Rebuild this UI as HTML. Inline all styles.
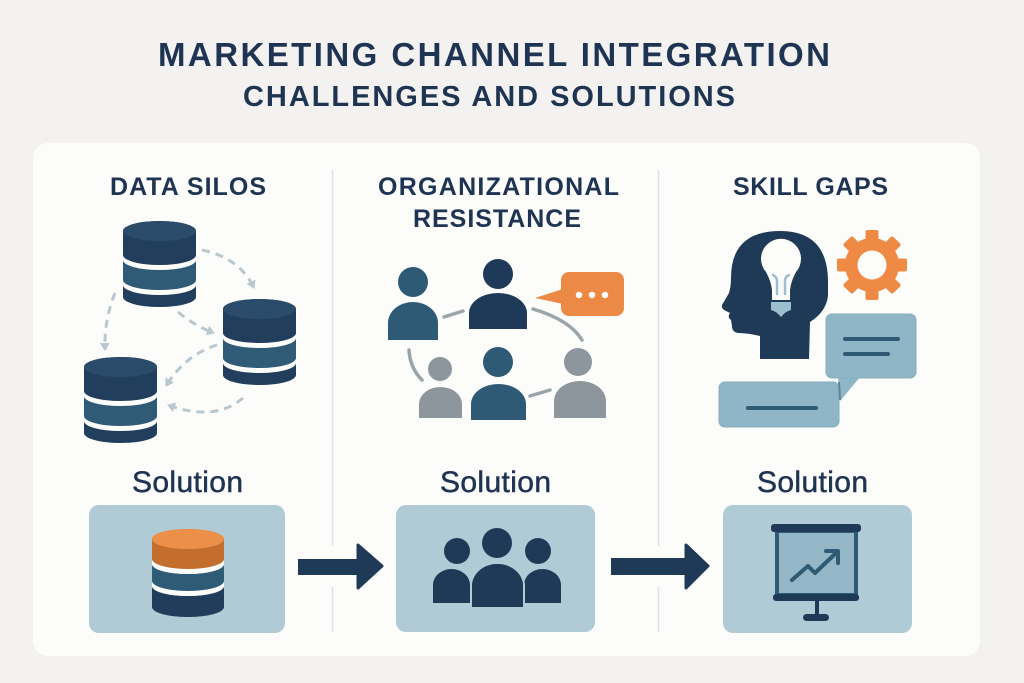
<!DOCTYPE html>
<html><head><meta charset="utf-8"><style>
html,body{margin:0;padding:0;background:#f3f2f0;}
svg{display:block;}
text{font-family:"Liberation Sans",sans-serif;fill:#1e3452;}
</style></head><body>
<svg width="1024" height="683" viewBox="0 0 1024 683" xmlns="http://www.w3.org/2000/svg">
<defs>
<marker id="ah" markerWidth="10" markerHeight="10" refX="7" refY="5" orient="auto" markerUnits="userSpaceOnUse">
<path d="M0,0 L8,5 L0,10 Z" fill="#b9c7d0"/>
</marker>
</defs>
<rect x="0" y="0" width="1024" height="683" fill="#f3f2f0"/>
<!-- titles -->
<text x="158" y="66" font-size="33" font-weight="bold" textLength="672" lengthAdjust="spacing">MARKETING CHANNEL INTEGRATION</text>
<text x="243" y="106" font-size="29" font-weight="bold" textLength="492" lengthAdjust="spacing">CHALLENGES AND SOLUTIONS</text>
<!-- panel -->
<rect x="33" y="143" width="947" height="513" rx="15" fill="#fcfcfb"/>
<!-- dividers -->
<g stroke="#dbe2e8" stroke-width="1.5">
<line x1="332.5" y1="170" x2="332.5" y2="546"/><line x1="332.5" y1="587" x2="332.5" y2="632"/>
<line x1="658.5" y1="170" x2="658.5" y2="546"/><line x1="658.5" y1="587" x2="658.5" y2="632"/>
</g>
<!-- headings -->
<text x="110" y="195" font-size="25" font-weight="bold" textLength="156" lengthAdjust="spacing">DATA SILOS</text>
<text x="378" y="195" font-size="25" font-weight="bold" textLength="241" lengthAdjust="spacing">ORGANIZATIONAL</text>
<text x="413" y="227" font-size="25" font-weight="bold" textLength="168" lengthAdjust="spacing">RESISTANCE</text>
<text x="733" y="195" font-size="25" font-weight="bold" textLength="155" lengthAdjust="spacing">SKILL GAPS</text>

<!-- cylinders data silos -->
<g id="cyl1">
<path d="M123,231 A36.5,10 0 0 1 196,231 L196,255 A36.5,10 0 0 1 123,255 Z" fill="#213f5d"/>
<ellipse cx="159.5" cy="231" rx="36.5" ry="10" fill="#2a4b69"/>
<path d="M123,260 A36.5,10 0 0 0 196,260 L196,280 A36.5,10 0 0 1 123,280 Z" fill="#2f5b77"/>
<path d="M123,285 A36.5,10 0 0 0 196,285 L196,297 A36.5,10 0 0 1 123,297 Z" fill="#213f5d"/>
</g>
<g transform="translate(100,78)">
<path d="M123,231 A36.5,10 0 0 1 196,231 L196,255 A36.5,10 0 0 1 123,255 Z" fill="#213f5d"/>
<ellipse cx="159.5" cy="231" rx="36.5" ry="10" fill="#2a4b69"/>
<path d="M123,260 A36.5,10 0 0 0 196,260 L196,280 A36.5,10 0 0 1 123,280 Z" fill="#2f5b77"/>
<path d="M123,285 A36.5,10 0 0 0 196,285 L196,297 A36.5,10 0 0 1 123,297 Z" fill="#213f5d"/>
</g>
<g transform="translate(-39,136)">
<path d="M123,231 A36.5,10 0 0 1 196,231 L196,255 A36.5,10 0 0 1 123,255 Z" fill="#213f5d"/>
<ellipse cx="159.5" cy="231" rx="36.5" ry="10" fill="#2a4b69"/>
<path d="M123,260 A36.5,10 0 0 0 196,260 L196,280 A36.5,10 0 0 1 123,280 Z" fill="#2f5b77"/>
<path d="M123,285 A36.5,10 0 0 0 196,285 L196,297 A36.5,10 0 0 1 123,297 Z" fill="#213f5d"/>
</g>
<!-- dashed arrows -->
<g fill="none" stroke="#b9c7d0" stroke-width="3" stroke-dasharray="8 6" marker-end="url(#ah)">
<path d="M202,250 Q240,258 254,288"/>
<path d="M178,312 Q195,326 214,333"/>
<path d="M115,293 Q104,320 105,350"/>
<path d="M217,345 Q185,355 166,386"/>
<path d="M243,398 Q215,422 168,405"/>
</g>

<!-- organizational resistance -->
<g stroke="#9aa5ab" stroke-width="3.5" stroke-linecap="round" fill="none">
<path d="M444,317 L463,311"/>
<path d="M533,309 Q570,320 582,340"/>
<path d="M409,350 Q410,368 422,380"/>
<path d="M530,396 L550,390"/>
</g>
<!-- person A -->
<circle cx="413" cy="282" r="15" fill="#2f5a76"/>
<path d="M388,340 L388,323 A25,21 0 0 1 438,323 L438,340 Z" fill="#2f5a76"/>
<!-- person B -->
<circle cx="498" cy="274" r="15" fill="#1f3a58"/>
<path d="M469,329 L469,313 A29,20 0 0 1 527,313 L527,329 Z" fill="#1f3a58"/>
<!-- person C -->
<circle cx="440" cy="369" r="12" fill="#8d969c"/>
<path d="M419,418 L419,404 A21.5,17 0 0 1 462,404 L462,418 Z" fill="#8d969c"/>
<!-- person D -->
<circle cx="498" cy="362" r="15" fill="#2f5a76"/>
<path d="M471,420 L471,404 A27.5,20 0 0 1 526,404 L526,420 Z" fill="#2f5a76"/>
<!-- person E -->
<circle cx="578" cy="362" r="14" fill="#8d969c"/>
<path d="M554,418 L554,401 A26,20 0 0 1 606,401 L606,418 Z" fill="#8d969c"/>
<!-- orange bubble -->
<path d="M563,289 L535,298 L563,304 Z" fill="#ec8a45"/>
<rect x="561" y="272" width="63" height="44" rx="8" fill="#ec8a45"/>
<circle cx="579" cy="295" r="3.2" fill="#fff"/>
<circle cx="592" cy="295" r="3.2" fill="#fff"/>
<circle cx="605" cy="295" r="3.2" fill="#fff"/>

<!-- skill gaps -->
<path d="M760,359 L760,336 Q748,333 738,333 Q732,332 732,326 L731,320 Q727,317 730,313 L726,311 Q721,309 722,305 L729,293 Q731,286 731,278 Q731,231 780,231 Q828,231 828,282 L828,296 Q826,312 810,322 L809,359 Z" fill="#1f3a57"/>
<path d="M772,300 L772,290 Q771,281 766,272 A20,20 0 1 1 796,272 Q791,281 790,290 L790,300 Z" fill="#fcfcfb"/>
<path d="M771,302 L791,302 L791,310 Q786,311 781,317 Q776,311 771,310 Z" fill="#9bbfcf"/>
<g stroke="#9bbfcf" stroke-width="2.5" fill="none" stroke-linecap="round">
<path d="M777,294 L777,281 Q777,277 773,275"/>
<path d="M785,294 L785,281 Q785,277 789,275"/>
</g>
<!-- gear -->
<g transform="translate(872,265)" fill="#ee8a43">
<rect x="-6.5" y="-35" width="13" height="14" rx="2"/>
<rect x="-6.5" y="-35" width="13" height="14" rx="2" transform="rotate(45)"/>
<rect x="-6.5" y="-35" width="13" height="14" rx="2" transform="rotate(90)"/>
<rect x="-6.5" y="-35" width="13" height="14" rx="2" transform="rotate(135)"/>
<rect x="-6.5" y="-35" width="13" height="14" rx="2" transform="rotate(180)"/>
<rect x="-6.5" y="-35" width="13" height="14" rx="2" transform="rotate(225)"/>
<rect x="-6.5" y="-35" width="13" height="14" rx="2" transform="rotate(270)"/>
<rect x="-6.5" y="-35" width="13" height="14" rx="2" transform="rotate(315)"/>
<circle r="27"/>
<circle r="14.5" fill="#fcfcfb"/>
</g>
<!-- bubbles -->
<rect x="719" y="382" width="120" height="45" rx="6" fill="#8fb6c6" stroke="#86adbd" stroke-width="1"/>
<line x1="748" y1="408" x2="816" y2="408" stroke="#2e5a74" stroke-width="4" stroke-linecap="round"/>
<path d="M838,376 L840,401 L861,376 Z" fill="#8fb6c6"/>
<line x1="839" y1="382" x2="840" y2="400" stroke="#5d8498" stroke-width="2"/>
<rect x="826" y="314" width="90" height="64" rx="6" fill="#8fb6c6" stroke="#86adbd" stroke-width="1"/>
<line x1="845" y1="339" x2="898" y2="339" stroke="#2e5a74" stroke-width="4" stroke-linecap="round"/>
<line x1="845" y1="354" x2="888" y2="354" stroke="#2e5a74" stroke-width="4" stroke-linecap="round"/>

<!-- solutions labels -->
<g stroke="#1e3452" stroke-width="0.5">
<text x="132" y="492" font-size="30" textLength="111" lengthAdjust="spacing">Solution</text>
<text x="440" y="492" font-size="30" textLength="111" lengthAdjust="spacing">Solution</text>
<text x="757" y="492" font-size="30" textLength="111" lengthAdjust="spacing">Solution</text>
</g>
<!-- solution boxes -->
<rect x="89" y="505" width="196" height="128" rx="10" fill="#b0cbd5"/>
<rect x="396" y="505" width="199" height="127" rx="10" fill="#b0cbd5"/>
<rect x="723" y="505" width="189" height="128" rx="10" fill="#b0cbd5"/>

<!-- solution cylinder -->
<path d="M152,539 A36,10 0 0 1 224,539 L224,559 A36,10 0 0 1 152,559 Z" fill="#c46e2e"/>
<ellipse cx="188" cy="539" rx="36" ry="10" fill="#ec8f48"/>
<path d="M152,564 A36,10 0 0 0 224,564 L224,581 A36,10 0 0 1 152,581 Z" fill="#2e5b76"/>
<path d="M152,586 A36,10 0 0 0 224,586 L224,607 A36,10 0 0 1 152,607 Z" fill="#213d5b"/>
<path d="M152,559 A36,10 0 0 0 224,559 L224,564 A36,10 0 0 1 152,564 Z" fill="#fcfcfb"/>
<path d="M152,581 A36,10 0 0 0 224,581 L224,586 A36,10 0 0 1 152,586 Z" fill="#fcfcfb"/>

<!-- arrows -->
<g fill="#1f3a57" stroke="#1f3a57" stroke-linejoin="round" stroke-width="3">
<rect x="298" y="559" width="61" height="16" stroke="none"/>
<path d="M358,545 L382,566 L358,588 Z"/>
<rect x="611" y="558" width="76" height="17" stroke="none"/>
<path d="M686,545 L708,566 L686,588 Z"/>
</g>

<!-- team icon -->
<g fill="#1f3a57">
<circle cx="457" cy="551" r="13"/>
<circle cx="538" cy="551" r="13"/>
<path d="M433,603 L433,585 A18.5,16 0 0 1 470,585 L470,603 Z"/>
<path d="M524,603 L524,585 A18.5,16 0 0 1 561,585 L561,603 Z"/>
<path d="M472,607 L472,586 A25.5,22 0 0 1 523,586 L523,607 Z" stroke="#b0cbd5" stroke-width="4" paint-order="stroke"/>
<path d="M472,607 L472,586 A25.5,22 0 0 1 523,586 L523,607 Z"/>
<circle cx="497" cy="543" r="15"/>
</g>

<!-- presentation icon -->
<rect x="777" y="531" width="79" height="64" fill="#93b7c6" stroke="#2e5a74" stroke-width="4"/>
<rect x="771" y="524" width="90" height="8" rx="3" fill="#1f3a57"/>
<rect x="773" y="594" width="86" height="7" rx="3" fill="#1f3a57"/>
<rect x="815" y="600" width="4" height="17" fill="#1f3a57"/>
<rect x="803" y="614" width="26" height="7" rx="3.5" fill="#1f3a57"/>
<polyline points="792,580 808,566 815,573 836,553" fill="none" stroke="#2e5a74" stroke-width="4" stroke-linecap="round" stroke-linejoin="round"/>
<polyline points="826,551 838,551 838,563" fill="none" stroke="#2e5a74" stroke-width="4" stroke-linecap="round" stroke-linejoin="round"/>
</svg>
</body></html>
